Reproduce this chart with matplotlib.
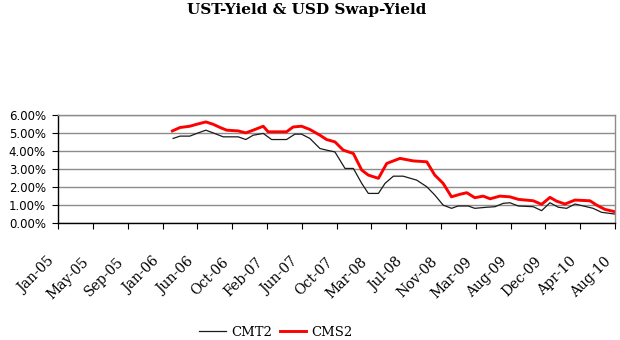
import numpy as np
import matplotlib.pyplot as plt
import matplotlib.transforms as mtransforms

# x positions are in tick-interval units (tick 0 = Jan-05, tick 16 = Aug-10)
tick_labels = ['Jan-05', 'May-05', 'Sep-05', 'Jan-06', 'Jun-06', 'Oct-06', 'Feb-07',
               'Jun-07', 'Oct-07', 'Mar-08', 'Jul-08', 'Nov-08', 'Mar-09', 'Aug-09',
               'Dec-09', 'Apr-10', 'Aug-10']

cmt2_x = [3.30, 3.50, 3.78, 3.98, 4.24, 4.45, 4.74, 5.17, 5.39, 5.60, 5.89, 6.13, 6.56,
          6.80, 6.99, 7.23, 7.52, 7.71, 7.95, 8.24, 8.48, 8.72, 8.91, 9.20, 9.39, 9.63,
          9.91, 10.30, 10.59, 10.82, 11.06, 11.30, 11.49, 11.78, 11.97, 12.31, 12.55,
          12.79, 12.98, 13.22, 13.65, 13.89, 14.13, 14.37, 14.61, 14.85, 15.09, 15.37,
          15.61, 16.0]
cmt2 = [4.69, 4.82, 4.82, 4.97, 5.15, 5.00, 4.78, 4.78, 4.63, 4.87, 4.97, 4.63, 4.63,
        4.93, 4.93, 4.69, 4.13, 4.04, 3.94, 3.02, 3.02, 2.19, 1.63, 1.63, 2.19, 2.59,
        2.59, 2.37, 2.00, 1.54, 0.98, 0.80, 0.93, 0.93, 0.80, 0.86, 0.89, 1.08, 1.11,
        0.93, 0.89, 0.67, 1.11, 0.86, 0.80, 1.04, 0.93, 0.80, 0.58, 0.48]

cms2_x = [3.28, 3.50, 3.78, 3.98, 4.24, 4.45, 4.65, 4.84, 5.17, 5.39, 5.60, 5.89, 6.03,
          6.56, 6.75, 6.99, 7.23, 7.52, 7.71, 7.95, 8.19, 8.48, 8.72, 8.91, 9.20, 9.44,
          9.82, 10.20, 10.59, 10.82, 11.06, 11.30, 11.54, 11.74, 11.97, 12.21, 12.41,
          12.69, 12.98, 13.22, 13.65, 13.89, 14.13, 14.32, 14.56, 14.85, 15.28, 15.47,
          15.71, 16.0]
cms2 = [5.11, 5.30, 5.37, 5.48, 5.61, 5.48, 5.30, 5.15, 5.11, 5.00, 5.15, 5.37, 5.06,
        5.06, 5.33, 5.37, 5.19, 4.87, 4.63, 4.50, 4.04, 3.85, 2.93, 2.65, 2.47, 3.30,
        3.58, 3.44, 3.39, 2.65, 2.19, 1.44, 1.58, 1.67, 1.39, 1.48, 1.33, 1.48, 1.44,
        1.30, 1.22, 1.02, 1.41, 1.20, 1.04, 1.26, 1.22, 0.98, 0.74, 0.61]

fig = plt.figure(figsize=(6.2, 3.4), dpi=100)
ax = fig.add_axes([0.094, 0.345, 0.898, 0.317])

ax.plot(cmt2_x, np.array(cmt2) / 100, color='#1a1a1a', lw=0.9, label='CMT2')
ax.plot(cms2_x, np.array(cms2) / 100, color='#ff0000', lw=2.1, label='CMS2')

ax.set_xlim(0, 16)
ax.set_ylim(0, 0.06)
ax.set_yticks(np.arange(0, 0.061, 0.01))
ax.set_yticklabels([f'{v:.2f}%' for v in np.arange(0, 6.01, 1)],
                   fontsize=8.5, family='DejaVu Sans')
ax.set_xticks(range(len(tick_labels)))
ax.set_xticklabels(tick_labels, rotation=45, ha='right', rotation_mode='anchor',
                   fontsize=10, family='DejaVu Serif')
ax.tick_params(axis='both', direction='out', length=4, width=0.8, color='black')
ax.tick_params(axis='y', pad=5)
ax.tick_params(axis='x', pad=19)

# shift rotated labels a little to the left, as in the source
offset = mtransforms.ScaledTranslation(-11 / 100, 0, fig.dpi_scale_trans)
for lab in ax.get_xticklabels():
    lab.set_transform(lab.get_transform() + offset)

ax.grid(axis='y', color='#8c8c8c', lw=1.0)
ax.set_axisbelow(True)
for s in ['top', 'right']:
    ax.spines[s].set_color('#8c8c8c')
    ax.spines[s].set_linewidth(1.0)
for s in ['left', 'bottom']:
    ax.spines[s].set_color('black')
    ax.spines[s].set_linewidth(1.0)

fig.text(0.494, 0.97, 'UST-Yield & USD Swap-Yield', ha='center', va='center',
         fontsize=11, fontweight='bold', family='DejaVu Serif')

fig.legend(loc='center', bbox_to_anchor=(0.445, 0.022), ncol=2, frameon=False,
           prop={'family': 'DejaVu Serif', 'size': 9.5}, handlelength=2.0,
           columnspacing=0.6, handletextpad=0.4)

fig.savefig('out.png', dpi=100)
